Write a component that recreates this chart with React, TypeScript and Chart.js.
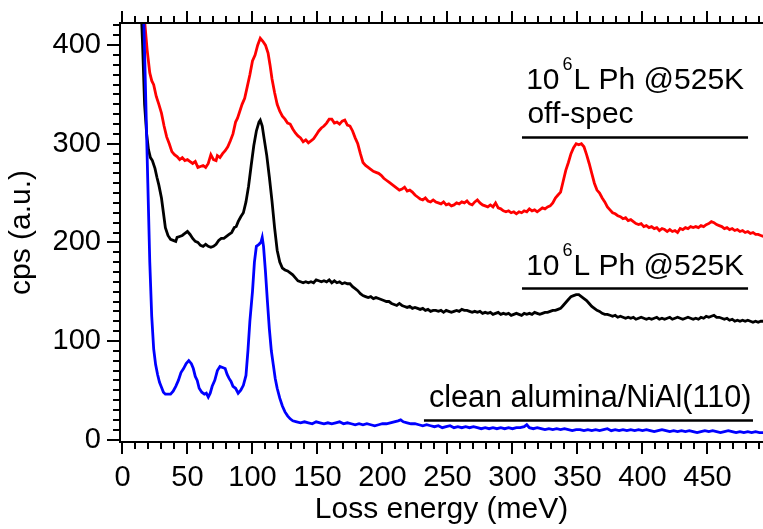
import React, { useEffect, useRef } from "react";
import { Chart, registerables } from "chart.js";

Chart.register(...registerables);

// ---------- data ----------
const xTickValues = [0, 50, 100, 150, 200, 250, 300, 350, 400, 450];
const yTickValues = [0, 100, 200, 300, 400];

const redEnergy = [
  12, 15, 17, 19, 21, 22.5, 24, 26, 28, 30, 32, 34, 36, 38, 40, 42, 44, 46, 48, 50, 52, 54, 56, 58, 60, 62, 64, 66, 68, 70,
  72, 73, 75, 77, 79, 81, 83, 85, 87, 88.5, 90, 92, 94, 96, 98, 100, 102, 104, 106, 108, 110, 112, 113.5, 115, 117, 119,
  121, 123, 125, 127, 129, 131, 133, 135, 137, 139, 141, 143, 145, 147, 149, 151, 153, 155, 157, 159, 161, 163, 165, 167,
  169, 171, 173, 175, 177, 179, 181, 183, 185, 187, 189, 191, 193, 195, 197, 199, 201, 203, 205, 207, 209, 211, 213, 215,
  217, 219, 221, 223, 225, 227, 229, 231, 233, 235, 237, 239, 241, 243, 245, 247, 249, 251, 253, 255, 257, 259, 261, 263,
  265, 267, 269, 271, 273, 275, 277, 279, 281, 283, 285, 287, 289, 291, 293, 295, 297, 299, 301, 303, 305, 307, 309, 311,
  313, 315, 317, 319, 321, 323, 325, 327, 329, 331, 333, 335, 337, 339, 341, 343, 345, 347, 349, 351, 353, 355, 357, 359,
  361, 363, 365, 367, 369, 371, 373, 375, 377, 379, 381, 383, 385, 387, 389, 391, 393, 395, 397, 399, 401, 403, 405, 407,
  409, 411, 413, 415, 417, 419, 421, 423, 425, 427, 429, 431, 433, 435, 437, 439, 441, 443, 445, 447, 449, 451, 453, 455,
  457, 459, 461, 463, 465, 467, 469, 471, 473, 475, 477, 479, 481, 483, 485, 487, 489, 491, 493,
];
const redCps = [
  520, 470, 425, 395, 372, 364, 360, 348, 340, 331, 318, 307, 300, 292, 289, 287, 284, 286, 283, 284, 282, 280, 282, 276,
  277, 278, 276, 280, 289, 284, 283, 288, 286, 290, 293, 297, 303, 310, 322, 326, 332, 340, 346, 358, 370, 384, 390, 400,
  407, 404, 400, 392, 380, 366, 352, 340, 333, 328, 325, 321, 320, 315, 311, 308, 306, 302, 304, 301, 303, 305, 309, 313,
  316, 318, 321, 325, 325, 321, 322, 320, 323, 324, 319, 318, 313, 306, 300, 290, 281, 278, 276, 274, 272, 271, 270, 268,
  265, 263, 261, 259, 257, 255, 253, 254, 256, 252, 253, 251, 248, 246, 244, 243, 245, 242, 241, 243, 241, 240, 239, 241,
  238, 239, 237, 238, 240, 239, 241, 240, 242, 239, 238, 241, 243, 240, 238, 237, 236, 238, 236, 240, 235, 234, 232, 231,
  232, 230, 231, 229, 231, 230, 232, 231, 234, 232, 233, 231, 233, 235, 234, 236, 237, 240, 245, 248, 251, 262, 273, 281,
  290, 296, 300, 299, 300, 297, 289, 280, 270, 260, 253, 250, 245, 241, 236, 233, 230, 229, 227, 226, 224, 225, 222, 223,
  221, 219, 218, 219, 216, 217, 215, 216, 214, 215, 212, 214, 213, 211, 213, 211, 212, 210, 214, 213, 215, 214, 216, 215,
  216, 215, 217, 216, 218, 219, 221, 220, 218, 217, 216, 214, 215, 213, 214, 212, 213, 211, 212, 210, 211, 209, 210, 208,
  208, 207, 206,
];

const blackEnergy = [
  12, 14, 15.5, 17, 18.6, 20, 21.5, 23, 25, 26.5, 28, 30, 31.5, 33, 35, 37, 39, 41, 42, 44, 46, 48, 50, 52, 54, 56, 58, 60,
  62, 64, 66, 68, 70, 72, 74, 76, 78, 80, 82, 84, 86, 87.5, 89, 91, 93, 95, 97, 99, 101, 103, 105, 106, 107.5, 109, 111,
  113, 115, 117, 119, 121, 123, 125, 127, 129, 131, 133, 135, 137, 139, 141, 143, 145, 147, 149, 151, 153, 155, 157, 159,
  161, 163, 165, 167, 169, 171, 173, 175, 177, 179, 181, 183, 185, 187, 189, 191, 193, 195, 197, 199, 201, 203, 205, 207,
  209, 211, 213, 215, 217, 219, 221, 223, 225, 227, 229, 231, 233, 235, 237, 239, 241, 243, 245, 247, 249, 251, 253, 255,
  257, 259, 261, 263, 265, 267, 269, 271, 273, 275, 277, 279, 281, 283, 285, 287, 289, 291, 293, 295, 297, 299, 301, 303,
  305, 307, 309, 311, 313, 315, 317, 319, 321, 323, 325, 327, 329, 331, 333, 335, 337, 339, 341, 343, 345, 347, 349, 351,
  353, 355, 357, 359, 361, 363, 365, 367, 369, 371, 373, 375, 377, 379, 381, 383, 385, 387, 389, 391, 393, 395, 397, 399,
  401, 403, 405, 407, 409, 411, 413, 415, 417, 419, 421, 423, 425, 427, 429, 431, 433, 435, 437, 439, 441, 443, 445, 447,
  449, 451, 453, 455, 457, 459, 461, 463, 465, 467, 469, 471, 473, 475, 477, 479, 481, 483, 485, 487, 489, 491, 493,
];
const blackCps = [
  560, 450, 400, 340, 310, 294, 286, 283, 275, 266, 258, 245, 230, 215, 207, 203, 202, 201, 205, 206, 207, 209, 211, 208,
  204, 201, 200, 197, 196, 198, 196, 195, 196, 198, 202, 204, 204, 206, 208, 210, 215, 216, 221, 226, 230, 241, 257, 278,
  298, 313, 322, 324, 318, 305, 288, 266, 242, 215, 192, 180, 174, 172, 171, 169, 167, 164, 161, 160, 159, 160, 159, 160,
  159, 162, 161, 160, 161, 160, 162, 159, 161, 159, 160, 158, 159, 158, 158, 155, 153, 151, 148, 146, 145, 144, 145, 143,
  144, 143, 142, 141, 140, 140, 138, 137, 136, 138, 136, 135, 134, 135, 133, 134, 133, 132, 133, 131, 132, 130, 131, 131,
  130, 131, 129, 131, 130, 129, 130, 131, 130, 132, 131, 131, 130, 129, 130, 129, 130, 128, 129, 128, 129, 127, 128, 129,
  127, 128, 127, 128, 126, 127, 128, 127, 126, 128, 127, 128, 127, 129, 128, 127, 128, 129, 129, 130, 131, 131, 132, 133,
  136, 139, 142, 145, 146, 147, 147, 145, 143, 141, 138, 135, 133, 131, 130, 128, 127, 127, 126, 125, 126, 124, 125, 124,
  123, 124, 123, 124, 122, 123, 124, 123, 122, 123, 122, 123, 124, 122, 123, 122, 123, 124, 122, 123, 124, 123, 122, 123,
  124, 123, 122, 123, 122, 124, 123, 125, 124, 125, 126, 124, 124, 123, 122, 123, 121, 122, 120, 121, 120, 121, 120, 121,
  120, 119, 120, 119, 120, 120,
];

const blueEnergy = [
  13, 15, 16.5, 18, 19.5, 21, 22.5, 24, 25.5, 27, 28.5, 30, 31.5, 33, 35, 37, 39, 41, 43, 45, 47, 49, 51, 53, 54.5, 56,
  57.5, 59, 61, 63, 64.5, 66, 67.5, 69, 71, 73, 75, 77, 79, 80.5, 82, 83.5, 85, 87, 89, 91, 93, 95, 96.5, 98, 100, 101.5,
  103, 105, 106.5, 107.5, 108.5, 110, 111.5, 113, 114.5, 116, 117.5, 119, 121, 123, 125, 127, 129, 131, 134, 137, 140, 143,
  146, 149, 152, 155, 158, 161, 164, 167, 170, 173, 176, 179, 182, 185, 188, 191, 194, 197, 200, 203, 206, 209, 212, 214,
  216, 219, 222, 225, 228, 231, 234, 237, 240, 243, 246, 249, 252, 255, 258, 261, 264, 267, 270, 273, 276, 279, 282, 285,
  288, 291, 294, 297, 300, 303, 306, 309, 311, 313, 316, 319, 322, 325, 328, 331, 334, 337, 340, 343, 346, 349, 352, 355,
  358, 361, 364, 367, 370, 373, 376, 379, 382, 385, 388, 391, 394, 397, 400, 403, 406, 409, 412, 415, 418, 421, 424, 427,
  430, 433, 436, 439, 442, 445, 448, 451, 454, 457, 460, 463, 466, 469, 472, 475, 478, 481, 484, 487, 490, 493,
];
const blueCps = [
  600, 470, 420, 340, 260, 180, 125, 92, 76, 66, 58, 53, 48, 46, 46, 46, 49, 54, 60, 68, 72, 77, 80, 77, 72, 64, 60, 52, 48,
  46, 47, 43, 47, 54, 60, 70, 74, 73, 72, 66, 62, 59, 54, 52, 47, 50, 55, 65, 90, 120, 150, 180, 196, 198, 200, 205, 196,
  170, 140, 112, 90, 76, 62, 52, 42, 34, 28, 24, 21, 19, 18, 17, 18, 17, 16, 18, 17, 16, 17, 16, 17, 18, 16, 17, 16, 15,
  16, 15, 16, 15, 14, 15, 16, 16, 17, 18, 19, 20, 18, 17, 16, 16, 15, 14, 15, 14, 13, 14, 12, 13, 14, 12, 13, 12, 13, 12,
  13, 12, 11, 12, 11, 12, 11, 12, 11, 12, 11, 12, 12, 13, 15, 12, 11, 12, 11, 10, 11, 10, 11, 10, 11, 10, 9, 10, 10, 9, 10,
  9, 10, 9, 10, 11, 9, 10, 9, 10, 9, 10, 9, 10, 9, 10, 9, 8, 9, 10, 9, 8, 9, 8, 9, 8, 9, 8, 7, 8, 9, 8, 9, 8, 7, 8, 9, 8,
  7, 8, 7, 8, 7, 8, 7, 7,
];

const seriesColors = { red: "#ff0000", black: "#000000", blue: "#0000ff" };

const FONT_FAMILY = "'Liberation Sans', Arial, Helvetica, sans-serif";

const toPoints = (xs: number[], ys: number[]) => xs.map((x, i) => ({ x, y: ys[i] }));

const framePlugin = {
  id: "frame",
  afterDraw(chart: any) {
    const { ctx, chartArea: a, scales } = chart;
    const x = scales.x;
    const y = scales.y;
    ctx.save();
    ctx.strokeStyle = "#000";
    ctx.lineWidth = 2;
    ctx.lineCap = "butt";
    ctx.beginPath();
    ctx.moveTo(a.left, a.bottom);
    ctx.lineTo(a.right + 5, a.bottom);
    ctx.moveTo(a.left, a.bottom + 1);
    ctx.lineTo(a.left, a.top - 1);
    ctx.moveTo(a.left - 1, a.top);
    ctx.lineTo(a.right + 5, a.top);
    ctx.stroke();
    ctx.beginPath();
    for (let v = 0; v <= x.max; v += 10) {
      const px = Math.round(x.getPixelForValue(v));
      const len = v % 50 === 0 ? 12 : 7;
      ctx.moveTo(px, a.bottom);
      ctx.lineTo(px, a.bottom + len);
      ctx.moveTo(px, a.top);
      ctx.lineTo(px, a.top - len);
    }
    for (let v = 0; v <= y.max; v += 10) {
      const py = Math.round(y.getPixelForValue(v));
      const len = v % 100 === 0 ? 13 : 7;
      ctx.moveTo(a.left, py);
      ctx.lineTo(a.left - len, py);
    }
    ctx.stroke();
    ctx.restore();
  },
};

const annotationPlugin = {
  id: "labels",
  afterDatasetsDraw(chart: any) {
    const { ctx, scales } = chart;
    const x = scales.x;
    const y = scales.y;
    const big = `30px ${FONT_FAMILY}`;
    const wide = `30.6px ${FONT_FAMILY}`;
    const small = `18px ${FONT_FAMILY}`;
    ctx.save();
    ctx.fillStyle = "#000";
    ctx.strokeStyle = "#000";
    ctx.textAlign = "left";
    ctx.textBaseline = "alphabetic";

    const drawExposure = (e: number, v: number) => {
      const px = x.getPixelForValue(e);
      const py = y.getPixelForValue(v);
      ctx.font = big;
      ctx.fillText("10", px, py);
      const w1 = ctx.measureText("10").width;
      ctx.font = small;
      ctx.fillText("6", px + w1 + 3, py - 19);
      const w2 = ctx.measureText("6").width;
      ctx.font = big;
      ctx.fillText("L Ph @525K", px + w1 + w2 + 4, py);
    };
    const hline = (e1: number, e2: number, v: number) => {
      const py = Math.round(y.getPixelForValue(v)) + 0.5;
      ctx.lineWidth = 2.5;
      ctx.beginPath();
      ctx.moveTo(x.getPixelForValue(e1), py);
      ctx.lineTo(x.getPixelForValue(e2), py);
      ctx.stroke();
    };

    drawExposure(310.5, 355.5);
    ctx.font = big;
    ctx.fillText("off-spec", x.getPixelForValue(311.5), y.getPixelForValue(320.6));
    hline(307.3, 481.2, 306.7);

    drawExposure(310.5, 166.8);
    hline(307.3, 481.2, 153.5);

    ctx.font = wide;
    ctx.fillText("clean alumina/NiAl(110)", x.getPixelForValue(235.7), y.getPixelForValue(32.9));
    hline(231.9, 485, 19.6);
    ctx.restore();
  },
};

export default function App() {
  const ref = useRef<HTMLCanvasElement | null>(null);
  useEffect(() => {
    if (!ref.current) return;
    const tickFont = { family: FONT_FAMILY, size: 29 };
    const titleFont = { family: FONT_FAMILY, size: 30 };
    const lineDs = (label: string, xs: number[], ys: number[], color: string) => ({
      label,
      data: toPoints(xs, ys),
      borderColor: color,
      backgroundColor: color,
      borderWidth: 2.8,
      pointRadius: 0,
      tension: 0,
      fill: false,
    });
    const chart = new Chart(ref.current, {
      type: "line",
      data: {
        datasets: [
          lineDs("clean alumina/NiAl(110)", blueEnergy, blueCps, seriesColors.blue),
          lineDs("10^6L Ph @525K", blackEnergy, blackCps, seriesColors.black),
          lineDs("10^6L Ph @525K off-spec", redEnergy, redCps, seriesColors.red),
        ],
      },
      options: {
        animation: false,
        responsive: false,
        maintainAspectRatio: false,
        layout: { padding: { top: 23, left: 0, right: 0, bottom: 0 } },
        plugins: { legend: { display: false }, tooltip: { enabled: false } },
        scales: {
          x: {
            type: "linear",
            min: -1.9,
            max: 492.7,
            afterBuildTicks: (s: any) => {
              s.ticks = xTickValues.map((v) => ({ value: v }));
            },
            afterFit: (s: any) => {
              s.height = 87;
              s.paddingLeft = 0;
              s.paddingRight = 0;
            },
            ticks: { font: tickFont, color: "#000", padding: 19, maxRotation: 0, autoSkip: false },
            grid: { display: false, drawTicks: false },
            border: { display: false },
            title: {
              display: true,
              text: "Loss energy (meV)",
              font: titleFont,
              color: "#000",
              padding: { top: 0, bottom: 1 },
            },
          },
          y: {
            type: "linear",
            min: -2.5,
            max: 422.5,
            afterBuildTicks: (s: any) => {
              s.ticks = yTickValues.map((v) => ({ value: v }));
            },
            afterFit: (s: any) => {
              s.width = 120;
              s.paddingTop = 0;
              s.paddingBottom = 0;
            },
            ticks: { font: tickFont, color: "#000", padding: 19 },
            grid: { display: false, drawTicks: false },
            border: { display: false },
            title: {
              display: true,
              text: "cps (a.u.)",
              font: titleFont,
              color: "#000",
              padding: { top: 4, bottom: 0 },
            },
          },
        },
      },
      plugins: [framePlugin, annotationPlugin],
    } as any);
    return () => chart.destroy();
  }, []);
  return (
    <div style={{ position: "fixed", left: 0, top: 0, width: 763, height: 529, background: "#fff" }}>
      <canvas ref={ref} width={763} height={529} style={{ display: "block", width: 763, height: 529 }} />
    </div>
  );
}
